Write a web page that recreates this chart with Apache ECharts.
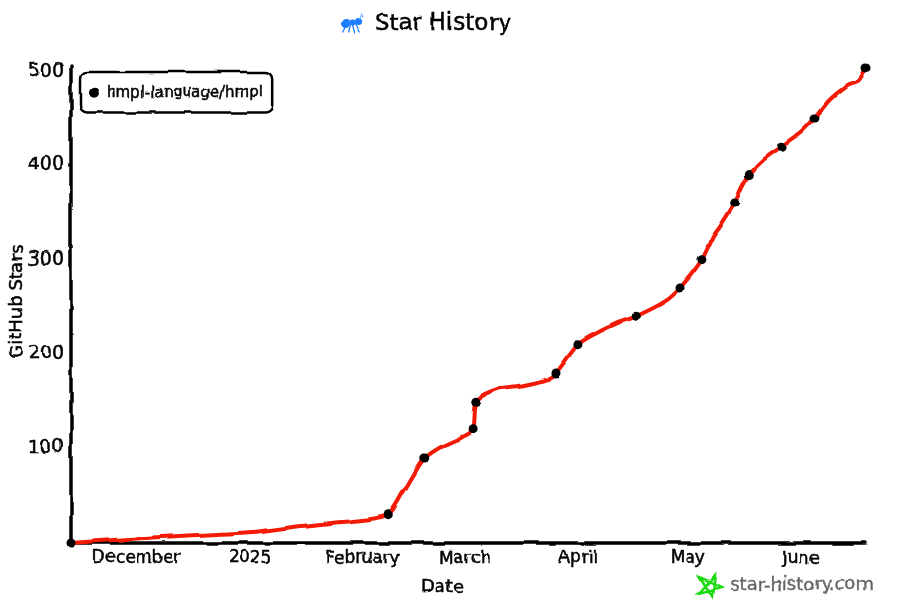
<!DOCTYPE html>
<html>
<head>
<meta charset="utf-8">
<title>Star History</title>
<script src="https://cdn.jsdelivr.net/npm/echarts@6/dist/echarts.min.js"></script>
<style>
  html, body { margin: 0; padding: 0; background: #fff; }
  #chart { width: 916px; height: 603px; filter: url(#sketch); }
</style>
</head>
<body>
<svg width="0" height="0" style="position:absolute">
  <filter id="sketch" x="0" y="0" width="100%" height="100%" color-interpolation-filters="sRGB">
    <feTurbulence type="fractalNoise" baseFrequency="0.035" numOctaves="2" seed="4" result="noise" />
    <feDisplacementMap in="SourceGraphic" in2="noise" scale="4" xChannelSelector="R" yChannelSelector="G" />
  </filter>
</svg>
<div id="chart"></div>
<script>
// red curve
const curveDates = [
  "2024-11-13", "2024-12-10", "2025-01-03", "2025-01-15", "2025-01-31", "2025-02-08",
  "2025-02-12", "2025-02-16", "2025-02-18", "2025-02-23", "2025-02-28", "2025-03-03",
  "2025-03-04", "2025-03-10", "2025-03-17", "2025-03-24", "2025-03-26", "2025-04-01",
  "2025-04-05", "2025-04-12", "2025-04-17", "2025-04-25", "2025-04-29", "2025-05-05",
  "2025-05-08", "2025-05-10", "2025-05-14", "2025-05-16", "2025-05-18", "2025-05-22",
  "2025-05-27", "2025-06-01", "2025-06-05", "2025-06-09", "2025-06-14", "2025-06-17",
  "2025-06-19"
];
const curveStars = [
  0, 7, 12, 18, 24, 30,
  53, 79, 90, 103, 112, 120,
  150, 163, 167, 174, 180, 210,
  220, 233, 240, 256, 270, 300,
  324, 335, 360, 377, 390, 406,
  420, 434, 450, 469, 485, 490,
  503
];

// black dots, one every 30 stars
const dotDates = [
  "2024-11-13", "2025-02-08", "2025-02-18", "2025-03-03", "2025-03-04", "2025-03-26",
  "2025-04-01", "2025-04-17", "2025-04-29", "2025-05-05", "2025-05-14", "2025-05-18",
  "2025-05-27", "2025-06-05", "2025-06-19"
];
const dotStars = [0, 30, 90, 120, 150, 180, 210, 240, 270, 300, 360, 390, 420, 450, 503];

// month index -> label shown under the axis
const monthLabels = { 11: "December", 0: "2025", 1: "February", 2: "March", 3: "April", 4: "May", 5: "June" };
const repoName = "hmpl-language/hmpl";

const font = "DejaVu Sans";
// slightly heavier strokes, the hand drawn text is thick
const inkText = { fontFamily: font, color: "#000", textBorderColor: "#000", textBorderWidth: 0.5 };

var myChart = echarts.init(document.getElementById("chart"));

myChart.setOption({
  animation: false,
  backgroundColor: "#fff",
  title: {
    text: "Star History",
    left: 370,
    top: 8,
    textStyle: { ...inkText, fontSize: 23, fontWeight: "normal" },
  },
  legend: {
    data: [repoName],
    left: 80,
    top: 72,
    orient: "vertical",
    padding: [13, 9, 12, 9],
    borderColor: "#000",
    borderWidth: 2.5,
    borderRadius: 7,
    icon: "circle",
    itemWidth: 10,
    itemHeight: 10,
    itemGap: 0,
    selectedMode: false,
    itemStyle: { color: "#000", opacity: 1 },
    textStyle: { ...inkText, fontSize: 15, padding: [0, 0, 0, 3] },
  },
  grid: { left: 71, right: 50, top: 66, bottom: 60, containLabel: false, outerBoundsMode: "none" },
  xAxis: {
    type: "time",
    min: "2024-11-13",
    max: "2025-06-19",
    splitNumber: 7,
    name: "Date",
    nameLocation: "middle",
    nameGap: 35,
    nameMoveOverlap: false,
    nameTextStyle: { ...inkText, fontSize: 18, padding: [0, 52, 0, 0] },
    axisLine: { show: true, lineStyle: { color: "#000", width: 3.5 } },
    axisTick: { show: false },
    splitLine: { show: false },
    axisLabel: {
      ...inkText,
      margin: 7,
      hideOverlap: false,
      showMinLabel: false,
      showMaxLabel: false,
      fontSize: 17,
      formatter: (value) => {
        const d = new Date(value);
        return d.getDate() === 1 ? monthLabels[d.getMonth()] || "" : "";
      },
    },
  },
  yAxis: {
    type: "value",
    min: 0,
    max: 505,
    interval: 100,
    name: "GitHub Stars",
    nameLocation: "middle",
    nameGap: 45,
    nameMoveOverlap: false,
    nameTextStyle: { ...inkText, fontSize: 18, padding: [0, 0, 0, 6] },
    axisLine: { show: true, lineStyle: { color: "#000", width: 3.5 } },
    axisTick: { show: false },
    splitLine: { show: false },
    axisLabel: {
      ...inkText,
      showMinLabel: false,
      margin: 7,
      fontSize: 19,
    },
  },
  series: [
    {
      name: repoName,
      type: "scatter",
      z: 5,
      symbol: "circle",
      symbolSize: 9,
      itemStyle: { color: "#000", opacity: 1 },
      data: dotDates.map((d, i) => [d, dotStars[i]]),
    },
    {
      name: repoName,
      type: "line",
      z: 3,
      smooth: 0.25,
      symbol: "none",
      lineStyle: { color: "#f31b06", width: 4 },
      data: curveDates.map((d, i) => [d, curveStars[i]]),
    },
  ],
  graphic: [
    // ant logo
    {
      type: "group",
      left: 340,
      top: 12,
      children: [
        { type: "circle", shape: { cx: 5, cy: 9, r: 4.5 }, style: { fill: "#1b7cff" } },
        { type: "circle", shape: { cx: 12, cy: 8, r: 3 }, style: { fill: "#1b7cff" } },
        { type: "circle", shape: { cx: 18, cy: 7, r: 3.6 }, style: { fill: "#1b7cff" } },
        { type: "polyline", shape: { points: [[6, 10], [2, 18]] }, style: { stroke: "#1b7cff", lineWidth: 1.3, fill: null } },
        { type: "polyline", shape: { points: [[10, 10], [8, 18]] }, style: { stroke: "#1b7cff", lineWidth: 1.3, fill: null } },
        { type: "polyline", shape: { points: [[12, 10], [14, 18]] }, style: { stroke: "#1b7cff", lineWidth: 1.3, fill: null } },
        { type: "polyline", shape: { points: [[15, 9], [19, 17]] }, style: { stroke: "#1b7cff", lineWidth: 1.3, fill: null } },
        { type: "polyline", shape: { points: [[19, 5], [21, 0], [24, 3]] }, style: { stroke: "#7db4ff", lineWidth: 1.2, fill: null } },
      ],
    },
    // star logo
    {
      type: "polygon",
      shape: {
        points: [[715, 575], [712, 596], [700, 577], [721, 587], [699, 593]],
      },
      style: { fill: null, stroke: "#19d90f", lineWidth: 2.4 },
    },
    {
      type: "text",
      left: 730,
      top: 576,
      style: { text: "star-history.com", fill: "#666", font: "18px '" + font + "'", stroke: "#666", lineWidth: 0.4 },
    },
  ],
});
</script>
</body>
</html>
